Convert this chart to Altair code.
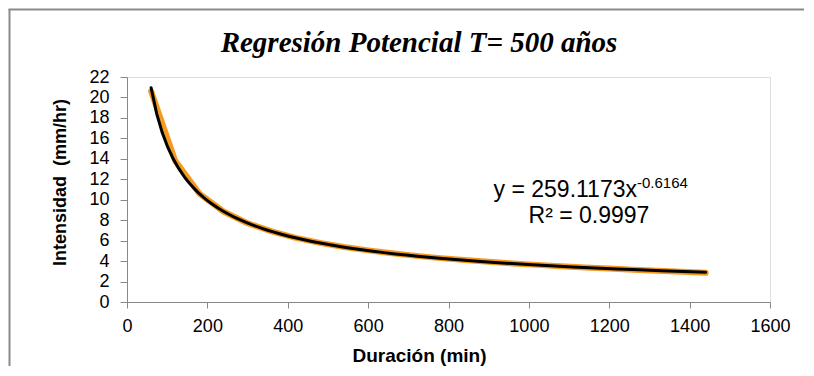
import altair as alt
import pandas as pd

duracion = [60, 120, 180, 240, 300, 360, 420, 480, 540, 600, 660, 720,
            780, 840, 900, 960, 1020, 1080, 1140, 1200, 1260, 1320, 1380, 1440]
intensidad = [20.6, 13.8, 10.6, 8.85, 7.7, 6.9, 6.27, 5.78, 5.38, 5.05, 4.76, 4.51,
              4.29, 4.10, 3.93, 3.77, 3.63, 3.50, 3.38, 3.27, 3.16, 3.06, 2.96, 2.86]

titulo = "Regresión Potencial T= 500 años"
eq_main = "y = 259.1173x"
eq_sup = "-0.6164"
eq_r2 = "R² = 0.9997"
x_ticks = list(range(0, 1601, 200))
y_ticks = list(range(0, 23, 2))

df = pd.DataFrame({"Duracion": duracion, "Intensidad": intensidad})

W, H = 643, 225
FONT = "Liberation Sans"
SERIF = "Liberation Serif"

xenc = alt.X("Duracion:Q", scale=alt.Scale(domain=[0, 1600], nice=False),
             axis=alt.Axis(values=x_ticks, title="Duración (min)", grid=False, format="d",
                           labelFontSize=18, labelPadding=9, tickSize=6,
                           labelFlush=False, labelOverlap=False,
                           titleFontSize=19, titleFontWeight="bold",
                           titleX=292, titleY=53, titleBaseline="middle",
                           titleAlign="center"))
yenc = alt.Y("Intensidad:Q", scale=alt.Scale(domain=[0, 22], nice=False),
             axis=alt.Axis(values=y_ticks, title="Intensidad\u00a0 (mm/hr)", grid=False,
                           format="d", labelFontSize=18, labelPadding=11, tickSize=7,
                           labelFlush=False, labelOverlap=False,
                           titleFontSize=18, titleFontWeight="bold",
                           titleX=-67, titleY=105, titleBaseline="middle",
                           titleAlign="center", titleAngle=-90))

base = alt.Chart(df)

obs = base.mark_line(color="#F5991F", strokeWidth=6, strokeCap="round",
                     strokeJoin="round").encode(x=xenc, y=yenc)

trend = base.transform_regression("Duracion", "Intensidad", method="pow").mark_line(
    color="black", strokeWidth=3, strokeCap="round").encode(x=xenc, y=yenc)

one = alt.Data(values=[{"a": 1}])

title_txt = alt.Chart(one).mark_text(
    text=titulo, font=SERIF, fontSize=29, fontWeight="bold",
    fontStyle="italic", align="center", baseline="alphabetic", color="black"
).encode(x=alt.value(292), y=alt.value(-25))

eq1 = alt.Chart(one).mark_text(
    text=eq_main, font=FONT, fontSize=23, align="right", baseline="alphabetic",
    color="black").encode(x=alt.value(510), y=alt.value(120))
eq2 = alt.Chart(one).mark_text(
    text=eq_sup, font=FONT, fontSize=15, align="left", baseline="alphabetic",
    color="black").encode(x=alt.value(510), y=alt.value(111))
eq3 = alt.Chart(one).mark_text(
    text=eq_r2, font=FONT, fontSize=23, align="center", baseline="alphabetic",
    color="black").encode(x=alt.value(462), y=alt.value(146))

frame_left = alt.Chart(one).mark_rule(stroke="#8a8a8a", strokeWidth=2).encode(
    x=alt.value(-117.5), x2=alt.value(-117.5), y=alt.value(-68), y2=alt.value(300))
frame_top = alt.Chart(one).mark_rule(stroke="#8a8a8a", strokeWidth=2).encode(
    x=alt.value(-118.5), x2=alt.value(720), y=alt.value(-67.5), y2=alt.value(-67.5))

chart = alt.layer(frame_left, frame_top, obs, trend, title_txt, eq1, eq2, eq3).properties(
    width=W, height=H,
    autosize=alt.AutoSizeParams(type="none"),
    padding={"left": 119, "top": 69, "right": 34, "bottom": 64},
).configure_view(stroke="black", strokeWidth=1).configure_axis(
    labelFont=FONT, titleFont=FONT, labelColor="black", titleColor="black",
    domainColor="black", tickColor="#505050", domainWidth=1
).configure(background="white")

chart.save("out.html", embed_options={"renderer": "svg", "actions": False})
